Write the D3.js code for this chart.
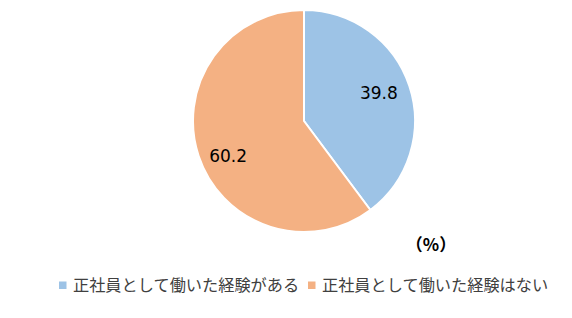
<!DOCTYPE html>
<html>
<head>
<meta charset="utf-8">
<script src="https://cdn.jsdelivr.net/npm/d3@7"></script>
<style>
  body { margin: 0; background: #fff; }
  text { font-family: "Noto Sans CJK JP", "DejaVu Sans", sans-serif; }
</style>
</head>
<body>
<div id="chart"></div>
<script>
// Chart data
const categories = ["正社員として働いた経験がある", "正社員として働いた経験はない"]
const values = [39.8, 60.2]
const colors = ["#9DC3E6", "#F4B183"]
const unitLabel = "（%）"

const width = 572
const height = 318
const cx = 304, cy = 121, radius = 111

const svg = d3.select("#chart")
    .append("svg")
    .attr("width", width)
    .attr("height", height)

const pie = d3.pie().sort(null).value(d => d)
const arcs = pie(values)
const arc = d3.arc().innerRadius(0).outerRadius(radius)
const labelArc = d3.arc().innerRadius(radius * 0.72).outerRadius(radius * 0.72)
// small nudges so labels sit where Excel put them
const labelNudge = [[-1, -3], [0, 10]]

const g = svg.append("g").attr("transform", "translate(" + cx + "," + cy + ")")

g.selectAll("path")
    .data(arcs)
    .join("path")
    .attr("d", arc)
    .attr("fill", (d, i) => colors[i])
    .attr("stroke", "white")
    .attr("stroke-width", 2)

// value labels
g.selectAll("text.val")
    .data(arcs)
    .join("text")
    .attr("class", "val")
    .attr("transform", (d, i) => {
        const c = labelArc.centroid(d)
        return "translate(" + (c[0] + labelNudge[i][0]) + "," + (c[1] + labelNudge[i][1]) + ")"
    })
    .attr("text-anchor", "middle")
    .attr("dy", "0.35em")
    .style("font-family", "'DejaVu Sans', sans-serif")
    .style("font-size", "17px")
    .attr("fill", "#000")
    .text(d => d.data.toFixed(1))

// unit
svg.append("text")
    .attr("x", 431)
    .attr("y", 245)
    .attr("text-anchor", "middle")
    .attr("dy", "0.35em")
    .style("font-size", "17px")
    .style("font-weight", "bold")
    .text(unitLabel)

// legend
const legendX = [59, 308]
const legend = svg.append("g")
    .selectAll("g")
    .data(categories)
    .join("g")
    .attr("transform", (d, i) => "translate(" + legendX[i] + ",285)")

legend.append("rect")
    .attr("x", 0)
    .attr("y", -3.5)
    .attr("width", 7.5)
    .attr("height", 7.5)
    .attr("fill", (d, i) => colors[i])

legend.append("text")
    .attr("x", 14)
    .attr("dy", "0.35em")
    .style("font-size", "16.2px")
    .attr("fill", "#404040")
    .text(d => d)
</script>
</body>
</html>
